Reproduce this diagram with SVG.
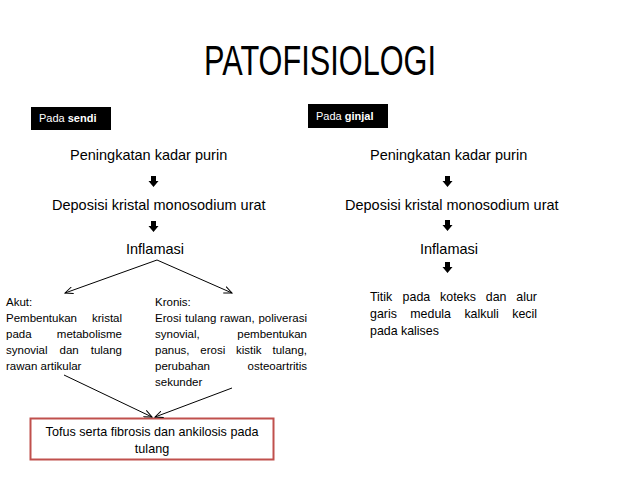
<svg xmlns="http://www.w3.org/2000/svg" width="638" height="479" viewBox="0 0 638 479">
<style>
text{font-family:"Liberation Sans",Arial,sans-serif;fill:#000}
.main{font-size:14.5px}
.small{font-size:11.5px}
.mid{font-size:12.4px}
.tag{font-size:11px;fill:#fff}
.conn{stroke:#000;stroke-width:1;fill:none}
</style>
<defs>
<marker id="open" markerUnits="userSpaceOnUse" markerWidth="10" markerHeight="8" refX="8" refY="4" orient="auto">
<path d="M0,0.5 L8,4 L0,7.5" fill="none" stroke="#000" stroke-width="1"/>
</marker>
<path id="blk" d="M-2.5,0 H2.5 V5 H5 L0,11 L-5,5 H-2.5 Z" fill="#000"/>
</defs>
<rect width="638" height="479" fill="#fff"/>

<g id="title"><text x="204" y="75" font-size="42" textLength="232" lengthAdjust="spacingAndGlyphs">PATOFISIOLOGI</text></g>

<g id="tag-sendi"><rect x="31" y="107" width="80" height="23" fill="#000"/><text class="tag" x="39" y="122">Pada <tspan font-weight="bold">sendi</tspan></text></g>
<g id="tag-ginjal"><rect x="308" y="104" width="80" height="24" fill="#000"/><text class="tag" x="316" y="120">Pada <tspan font-weight="bold">ginjal</tspan></text></g>

<g id="l-purin"><text class="main" x="70" y="160">Peningkatan kadar purin</text></g>
<g id="l-deposisi"><text class="main" x="52" y="210">Deposisi kristal monosodium urat</text></g>
<g id="l-inflamasi"><text class="main" x="126" y="254">Inflamasi</text></g>

<g id="r-purin"><text class="main" x="370" y="160">Peningkatan kadar purin</text></g>
<g id="r-deposisi"><text class="main" x="345" y="210">Deposisi kristal monosodium urat</text></g>
<g id="r-inflamasi"><text class="main" x="420" y="254">Inflamasi</text></g>

<g id="akut"><text class="small">
<tspan x="6" y="306">Akut:</tspan>
<tspan x="6" y="322">Pembentukan</tspan><tspan x="92" y="322">kristal</tspan>
<tspan x="6" y="338">pada</tspan><tspan x="56.8" y="338">metabolisme</tspan>
<tspan x="6" y="354">synovial</tspan><tspan x="59.5" y="354">dan</tspan><tspan x="90.7" y="354">tulang</tspan>
<tspan x="6" y="370">rawan artikular</tspan>
</text></g>

<g id="kronis"><text class="small">
<tspan x="155" y="306">Kronis:</tspan>
<tspan x="155" y="322">Erosi</tspan><tspan x="185" y="322">tulang</tspan><tspan x="220.1" y="322">rawan,</tspan><tspan x="258.4" y="322">poliverasi</tspan>
<tspan x="155" y="338">synovial,</tspan><tspan x="237.3" y="338">pembentukan</tspan>
<tspan x="155" y="354">panus,</tspan><tspan x="200.3" y="354">erosi</tspan><tspan x="236" y="354">kistik</tspan><tspan x="272.5" y="354">tulang,</tspan>
<tspan x="155" y="370">perubahan</tspan><tspan x="247.6" y="370">osteoartritis</tspan>
<tspan x="155" y="386">sekunder</tspan>
</text></g>

<g id="titik"><text class="mid">
<tspan x="370" y="301">Titik</tspan><tspan x="402.6" y="301">pada</tspan><tspan x="440.1" y="301">koteks</tspan><tspan x="485.8" y="301">dan</tspan><tspan x="516.3" y="301">alur</tspan>
<tspan x="370" y="318">garis</tspan><tspan x="410.3" y="318">medula</tspan><tspan x="464.4" y="318">kalkuli</tspan><tspan x="512.2" y="318">kecil</tspan>
<tspan x="370" y="335">pada kalises</tspan>
</text></g>

<g id="tofus"><rect x="30.5" y="418.5" width="243" height="41" fill="#fff" stroke="#c0504d" stroke-width="2"/>
<text font-size="12.6" text-anchor="middle"><tspan x="152" y="436">Tofus serta fibrosis dan ankilosis pada</tspan><tspan x="152" y="453">tulang</tspan></text></g>

<g id="connectors">
<use href="#blk" x="153.5" y="176"/>
<use href="#blk" x="153.5" y="221"/>
<use href="#blk" x="447.5" y="176"/>
<use href="#blk" x="447.5" y="220"/>
<use href="#blk" x="447.5" y="262"/>
<line class="conn" x1="157" y1="260" x2="65" y2="293" marker-end="url(#open)"/>
<line class="conn" x1="157" y1="260" x2="232" y2="293" marker-end="url(#open)"/>
<line class="conn" x1="64" y1="375" x2="152" y2="417" marker-end="url(#open)"/>
<line class="conn" x1="232" y1="388" x2="155" y2="417" marker-end="url(#open)"/>
</g>
</svg>
